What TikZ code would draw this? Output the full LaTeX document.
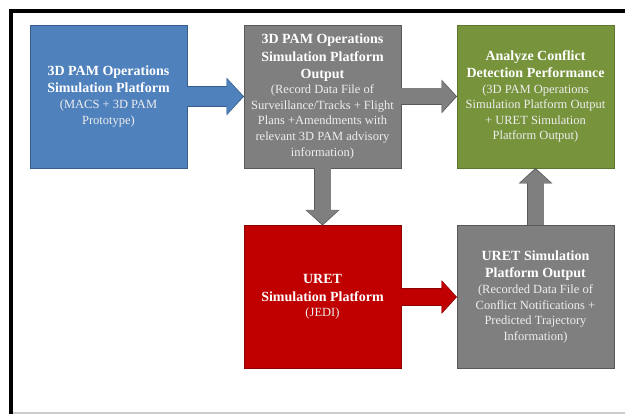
\documentclass[tikz,border=0pt]{standalone}
\usepackage{fontspec}
\setmainfont{Liberation Serif}
\usetikzlibrary{arrows.meta}

\definecolor{bluefill}{HTML}{4F81BD}
\definecolor{blueline}{HTML}{385D8A}
\definecolor{grayfill}{HTML}{7F7F7F}
\definecolor{grayline}{HTML}{595959}
\definecolor{greenfill}{HTML}{77933C}
\definecolor{greenline}{HTML}{5E7530}
\definecolor{redfill}{HTML}{C00000}
\definecolor{redline}{HTML}{8C0000}
\definecolor{subtext}{HTML}{EEEEEE}

\newcommand{\boxhd}{\fontsize{14}{17}\selectfont\bfseries\color{white}}
\newcommand{\boxsub}{\fontsize{12.5}{15.5}\selectfont\color{subtext}}

\begin{document}
\begin{tikzpicture}[x=1pt,y=-1pt,
    box/.style={draw,line width=0.8pt,minimum width=157pt,minimum height=143pt,
                inner sep=0pt,outer sep=0pt,align=center,
                font=\fontsize{12.5}{15.6}\selectfont},
    flow/.style 2 args={draw=#1,line width=16pt,shorten >=1.3pt,
                -{Triangle[length=14pt,width=32pt,line width=0pt]},
                preaction={draw=#2,line width=17.6pt,shorten >=0pt,
                -{Triangle[length=15.5pt,width=34pt,line width=0pt]}}},
    wideflow/.style 2 args={draw=#1,line width=19pt,shorten >=1.3pt,
                -{Triangle[length=16pt,width=36pt,line width=0pt]},
                preaction={draw=#2,line width=20.6pt,shorten >=0pt,
                -{Triangle[length=17.5pt,width=38pt,line width=0pt]}}}
]
\useasboundingbox (0,0) rectangle (625,414);

% frame
\draw[black,line width=4pt] (11,414) -- (11,11) -- (625,11);
\draw[black!20,line width=1.5pt] (13,413) -- (625,413);

\node[box,fill=bluefill,draw=blueline]   (macs)    at (108.5,96.5)
  {\boxhd 3D PAM Operations\\[1.5pt] \boxhd Simulation Platform\\
   \boxsub (MACS + 3D PAM\\ \boxsub Prototype)};
\node[box,fill=grayfill,draw=grayline]   (pamout)  at (322.5,96.5)
  {\boxhd 3D PAM Operations\\[1.5pt] \boxhd Simulation Platform\\[1.5pt] \boxhd Output\\
   \boxsub (Record Data File of\\ \boxsub Surveillance/Tracks + Flight\\
   \boxsub Plans +Amendments with\\ \boxsub relevant 3D PAM advisory\\
   \boxsub information)};
\node[box,fill=greenfill,draw=greenline] (analyze) at (535.5,96.5)
  {\boxhd Analyze Conflict\\[1.5pt] \boxhd Detection Performance\\
   \boxsub (3D PAM Operations\\ \boxsub Simulation Platform Output\\
   \boxsub + URET Simulation\\ \boxsub Platform Output)};
\node[box,fill=redfill,draw=redline]     (uret)    at (322.5,297)
  {\boxhd URET\\[1.5pt] \boxhd Simulation Platform\\ \boxsub (JEDI)};
\node[box,fill=grayfill,draw=grayline]   (uretout) at (535.5,297)
  {\boxhd URET Simulation\\[1.5pt] \boxhd Platform Output\\
   \boxsub (Recorded Data File of\\ \boxsub Conflict Notifications +\\
   \boxsub Predicted Trajectory\\ \boxsub Information)};

\draw[wideflow={bluefill}{blueline}] (macs.east) -- (pamout.west);
\draw[flow={grayfill}{grayline}] (pamout.east) -- (analyze.west);
\draw[flow={grayfill}{grayline}] (pamout.south) -- (uret.north);
\draw[flow={redfill}{redline}] (uret.east) -- (uretout.west);
\draw[flow={grayfill}{grayline}] (uretout.north) -- (analyze.south);
\end{tikzpicture}
\end{document}
